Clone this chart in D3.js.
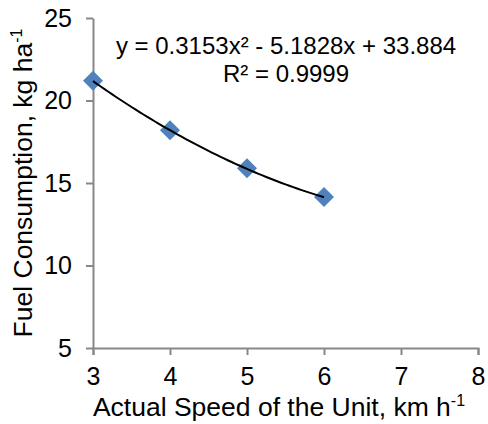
<!DOCTYPE html>
<html>
<head>
<meta charset="utf-8">
<script src="https://cdn.jsdelivr.net/npm/d3@7"></script>
<style>
  body { margin: 0; background: #fff; }
  svg { display: block; font-family: "Liberation Sans", Arial, sans-serif; }
</style>
</head>
<body>
<svg id="chart" width="488" height="424"></svg>
<script>
// data
const speeds = [3, 4, 5, 6];
const fuel = [21.2, 18.2, 15.9, 14.15];
const xTicks = [3, 4, 5, 6, 7, 8];
const yTicks = [5, 10, 15, 20, 25];
// trendline coefficients as printed on the chart: a*x^2 + b*x + c
const trendCoef = [0.3153, -5.1828, 33.884];
const trendLabel = "y = 0.3153x² - 5.1828x + 33.884";
const r2Label = "R² = 0.9999";

const svg = d3.select("#chart");
const axisColor = "#888";
const fontFam = "Liberation Sans, Arial, sans-serif";

const xScale = d3.scaleLinear().domain([3, 8]).range([93, 478]);
const yScale = d3.scaleLinear().domain([5, 25]).range([348, 18]);

// x axis
const xAxis = svg.append("g").attr("transform", `translate(0, ${yScale(5)})`);
xAxis.call(d3.axisBottom(xScale).tickValues(xTicks).tickSize(7).tickPadding(12).tickFormat(d3.format("d")));
xAxis.select(".domain").attr("stroke", axisColor).attr("stroke-width", 2);
xAxis.selectAll(".tick line").attr("stroke", axisColor).attr("stroke-width", 2);
xAxis.selectAll(".tick text").attr("fill", "#000").style("font-size", "25px").attr("font-family", fontFam);

// y axis
const yAxis = svg.append("g").attr("transform", `translate(${xScale(3)}, 0)`);
yAxis.call(d3.axisLeft(yScale).tickValues(yTicks).tickSize(7).tickPadding(14).tickSizeOuter(0));
yAxis.select(".domain").attr("stroke", axisColor).attr("stroke-width", 2);
yAxis.selectAll(".tick line").attr("stroke", axisColor).attr("stroke-width", 2);
yAxis.selectAll(".tick text").attr("fill", "#000").style("font-size", "25px").attr("font-family", fontFam);

// diamond markers
const half = 10;
svg.selectAll("path.pt")
    .data(speeds.map((s, i) => [s, fuel[i]]))
    .join("path")
    .attr("class", "pt")
    .attr("fill", "#4F81BD")
    .attr("d", d => {
        const cx = xScale(d[0]), cy = yScale(d[1]);
        return `M${cx},${cy - half}L${cx + half},${cy}L${cx},${cy + half}L${cx - half},${cy}Z`;
    });

// trend curve, drawn over the markers
const trendX = d3.range(0, 61).map(i => speeds[0] + i * (speeds[speeds.length - 1] - speeds[0]) / 60);
const trend = x => trendCoef[0] * x * x + trendCoef[1] * x + trendCoef[2];
svg.append("path")
    .datum(trendX)
    .attr("fill", "none")
    .attr("stroke", "#000")
    .attr("stroke-width", 2)
    .attr("d", d3.line().x(d => xScale(d)).y(d => yScale(trend(d))));

// equation label
svg.append("text").attr("x", 286).attr("y", 54).attr("text-anchor", "middle")
    .style("font-size", "24px").text(trendLabel);
svg.append("text").attr("x", 286).attr("y", 82).attr("text-anchor", "middle")
    .style("font-size", "24px").text(r2Label);

// axis titles
const xTitle = svg.append("text").attr("x", 279).attr("y", 416).attr("text-anchor", "middle")
    .style("font-size", "26.5px");
xTitle.append("tspan").text("Actual Speed of the Unit, km h");
xTitle.append("tspan").attr("dy", -10).style("font-size", "16px").text("-1");

const yTitle = svg.append("text")
    .attr("transform", `translate(32, 183) rotate(-90)`)
    .attr("text-anchor", "middle")
    .style("font-size", "26.5px");
yTitle.append("tspan").text("Fuel Consumption, kg ha");
yTitle.append("tspan").attr("dy", -10).style("font-size", "16px").text("-1");
</script>
</body>
</html>
